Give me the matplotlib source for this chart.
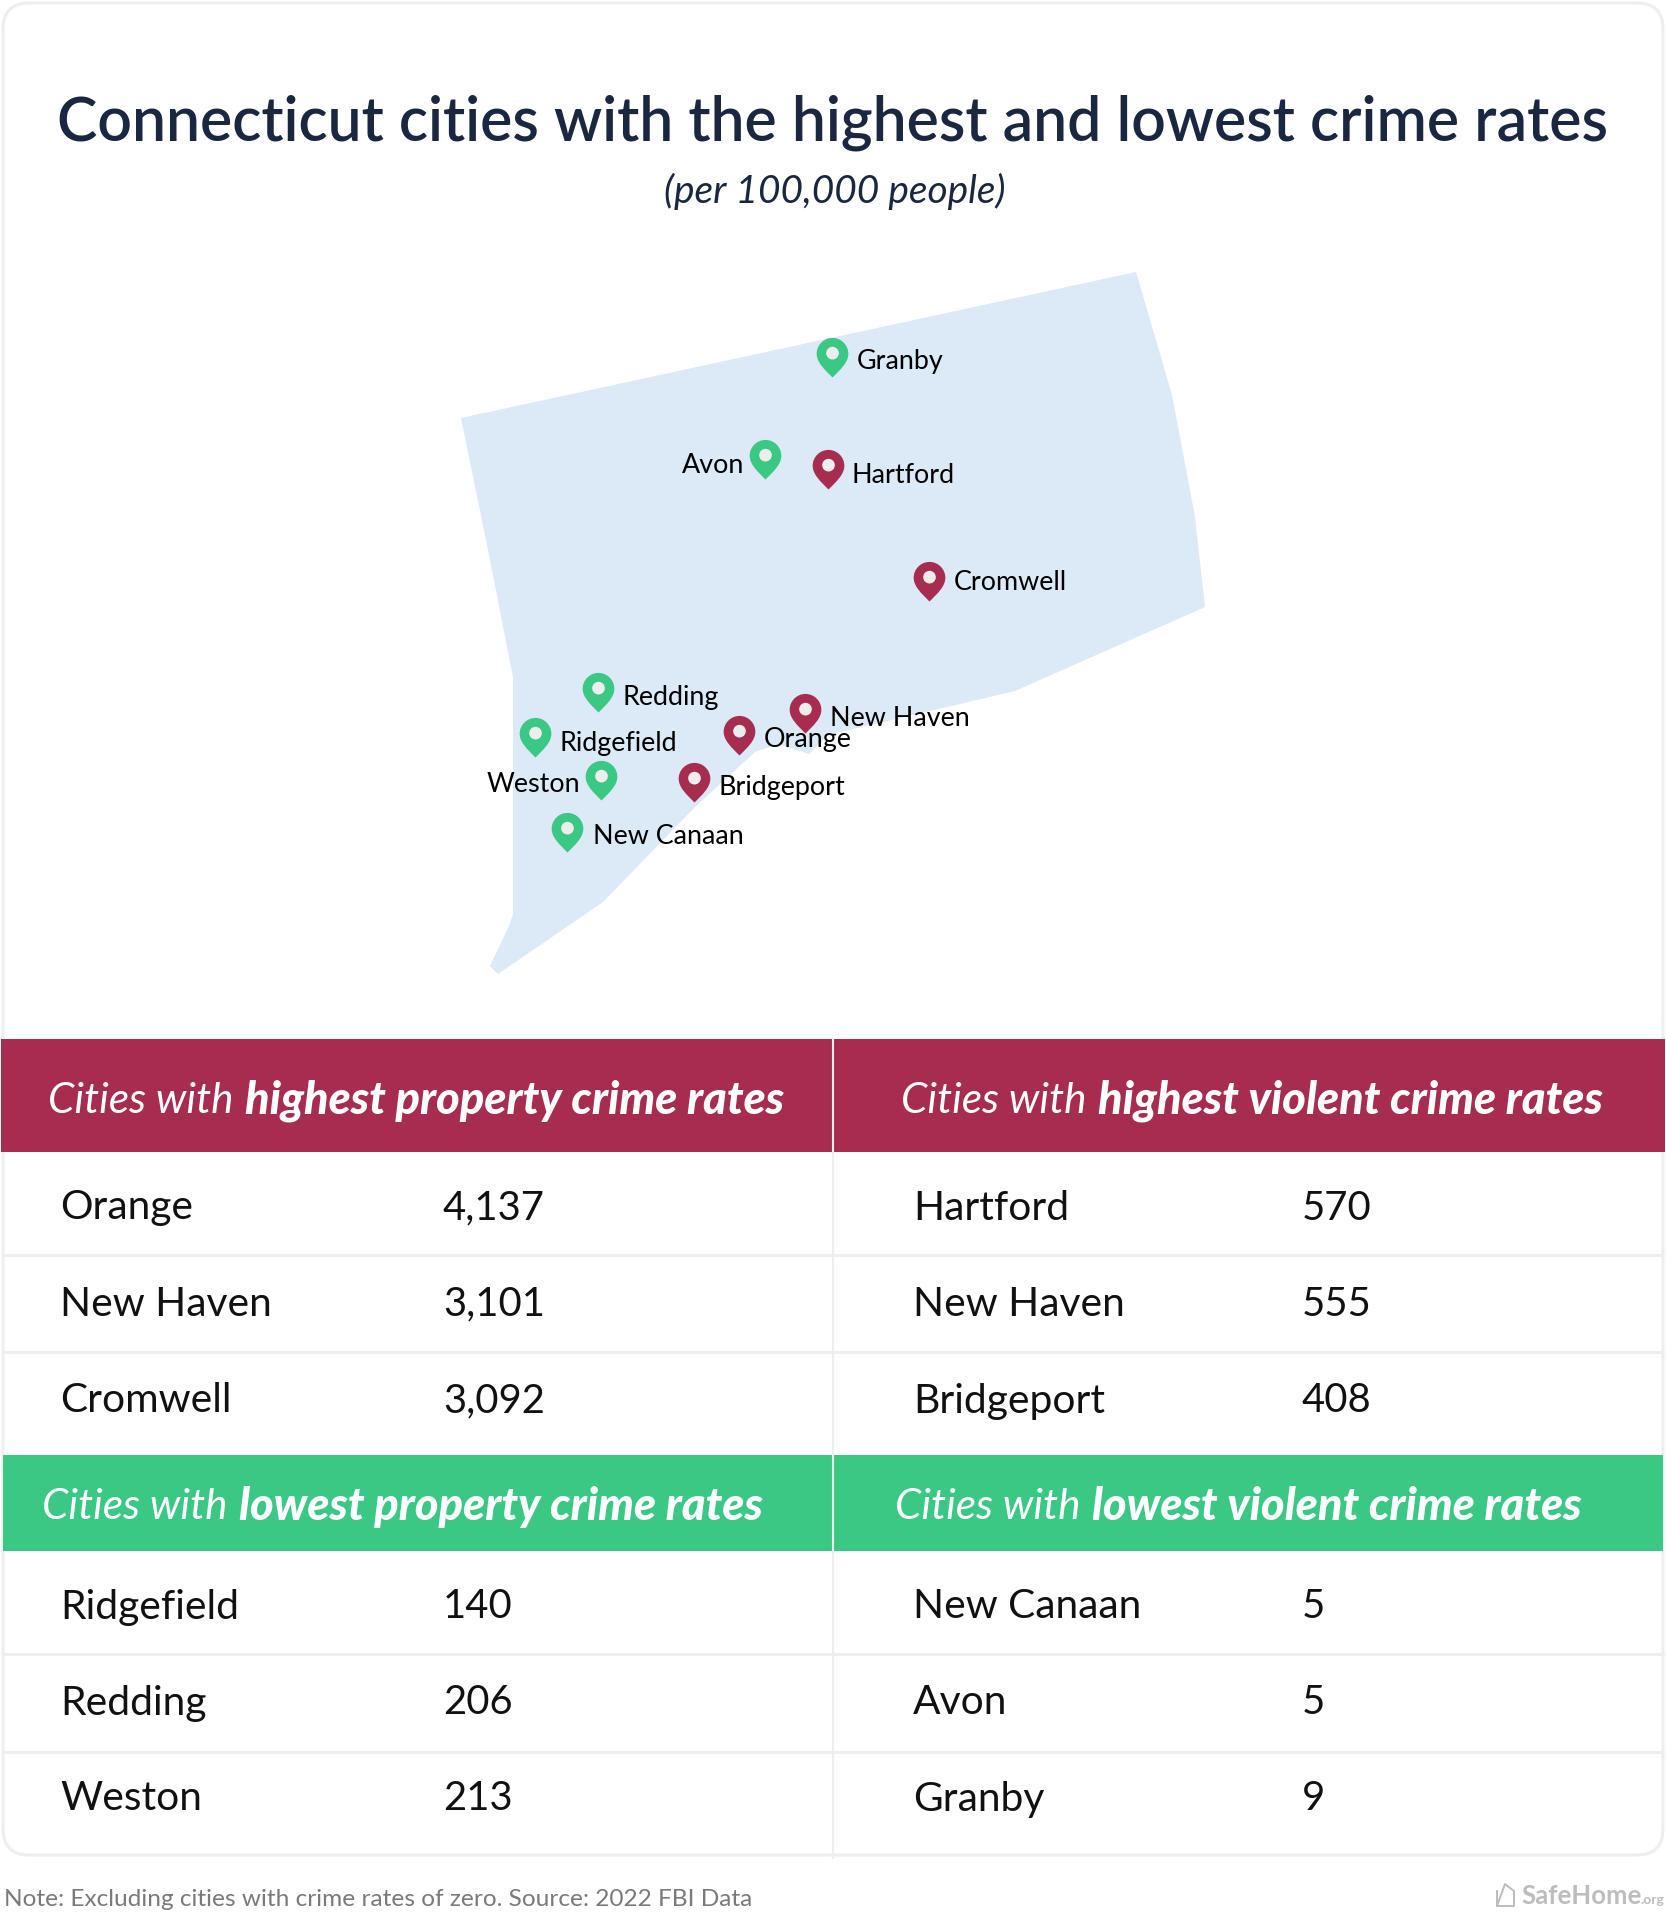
import matplotlib
matplotlib.use("Agg")
import matplotlib.pyplot as plt
from matplotlib.patches import Rectangle, FancyBboxPatch, Polygon
from matplotlib.path import Path

plt.rcParams['font.family'] = ['Lato', 'DejaVu Sans']

RED = '#A62C50'
GREEN = '#3AC884'
MAP_BLUE = '#DCE9F6'
NAVY = '#1B2741'
LINE = '#EEEEEE'

# table contents
high_property_cities = ['Orange', 'New Haven', 'Cromwell']
high_property_rates = [4137, 3101, 3092]
high_violent_cities = ['Hartford', 'New Haven', 'Bridgeport']
high_violent_rates = [570, 555, 408]
low_property_cities = ['Ridgefield', 'Redding', 'Weston']
low_property_rates = [140, 206, 213]
low_violent_cities = ['New Canaan', 'Avon', 'Granby']
low_violent_rates = [5, 5, 9]

# state outline, in image pixels
map_x = [461, 488, 513, 513, 509, 490, 498, 603, 695, 755, 779, 809, 828, 1015, 1205, 1195, 1172, 1136]
map_y = [418, 550, 677, 914, 926, 966, 974, 902, 807, 752, 744, 754, 735, 691, 607, 517, 395, 272]

# pin tips
green_pins = ['Granby', 'Avon', 'Redding', 'Ridgefield', 'Weston', 'New Canaan']
green_x = [832, 765, 598, 535, 601, 567]
green_y = [377, 479, 712, 757, 800, 852]
red_pins = ['Hartford', 'Cromwell', 'New Haven', 'Orange', 'Bridgeport']
red_x = [828, 929, 805, 739, 694]
red_y = [489, 601, 733, 755, 802]

labels = ['Granby', 'Avon', 'Hartford', 'Cromwell', 'New Haven', 'Orange',
          'Redding', 'Ridgefield', 'Weston', 'Bridgeport', 'New Canaan']
label_x = [857, 744, 852, 954, 830, 764, 623, 560, 580, 719, 593]
label_y = [361, 465, 475, 583, 719, 740, 697, 743, 784, 787, 837]
label_ha = ['left', 'right', 'left', 'left', 'left', 'left', 'left', 'left', 'right', 'left', 'left']

fig = plt.figure(figsize=(16.66, 19.16), dpi=100)
ax = fig.add_axes([0, 0, 1, 1])
ax.set_xlim(0, 1666)
ax.set_ylim(1916, 0)
ax.axis('off')

# card outline
ax.add_patch(FancyBboxPatch((3, 3), 1660, 1852, boxstyle='round,pad=0,rounding_size=26',
                            fc='white', ec=LINE, lw=2.2))

ax.text(833, 123, 'Connecticut cities with the highest and lowest crime rates',
        ha='center', va='center', fontsize=43.7, fontweight='semibold', color=NAVY)
ax.text(835, 191, '(per 100,000 people)', ha='center', va='center', fontsize=28,
        style='italic', color=NAVY)

# map
ax.add_patch(Polygon(list(zip(map_x, map_y)), closed=True, fc=MAP_BLUE, ec='none'))

pin = Path([(0, 0), (-.2, .2), (-.4, .38), (-.4, .6), (-.4, .82), (-.22, 1), (0, 1),
            (.22, 1), (.4, .82), (.4, .6), (.4, .38), (.2, .2), (0, 0)],
           [Path.MOVETO] + [Path.CURVE4] * 12)
circle = Path.circle((0, .615), .16)
# moveto at the top keeps the hole on the same scale as the pin
hole = Path.make_compound_path(Path([(0, 0), (0, 1)], [Path.MOVETO, Path.MOVETO]), circle)

for xs, ys, col in [(green_x, green_y, GREEN), (red_x, red_y, RED)]:
    ax.plot(xs, ys, ls='none', marker=pin, ms=57, mfc=col, mec='none', zorder=3)
    ax.plot(xs, ys, ls='none', marker=hole, ms=57, mfc='#EDEDED', mec='none', zorder=4)

for name, x, y, ha in zip(labels, label_x, label_y, label_ha):
    ax.text(x, y, name, ha=ha, va='center', fontsize=19.4, color='black', zorder=5)

# table bands
ax.add_patch(Rectangle((1, 1039), 1664, 113, fc=RED, ec='none'))
ax.add_patch(Rectangle((3, 1455), 1660, 96, fc=GREEN, ec='none'))
for y in [1255, 1352, 1654, 1752]:
    ax.plot([3, 1663], [y, y], color=LINE, lw=2, zorder=1)
ax.plot([833, 833], [1039, 1858], color=LINE, lw=1.5, zorder=2)


def header(x, y, light, bold):
    t = ax.text(x, y, light, va='center', fontsize=30.4, style='italic', color='white', zorder=5)
    end = t.get_window_extent(fig.canvas.get_renderer())
    x1 = ax.transData.inverted().transform((end.x1, end.y0))[0]
    ax.text(x1 + 12, y, bold, va='center', fontsize=32.5, style='italic', fontweight='black',
            color='white', zorder=5)


header(48, 1101, 'Cities with', 'highest property crime rates')
header(901, 1101, 'Cities with', 'highest violent crime rates')
header(42, 1507, 'Cities with', 'lowest property crime rates')
header(895, 1507, 'Cities with', 'lowest violent crime rates')


def rows(x_name, x_val, ys, cities, rates):
    for y, city, rate in zip(ys, cities, rates):
        ax.text(x_name, y, city, va='center', fontsize=29.3, color='#111111', zorder=5)
        ax.text(x_val, y, f'{rate:,}', va='center', fontsize=28.8, color='#111111', zorder=5)


top_rows = [1208, 1304, 1401]
bottom_rows = [1607, 1703, 1799]
rows(60, 443, top_rows, high_property_cities, high_property_rates)
rows(913, 1302, top_rows, high_violent_cities, high_violent_rates)
rows(60, 443, bottom_rows, low_property_cities, low_property_rates)
rows(913, 1302, bottom_rows, low_violent_cities, low_violent_rates)

# footer
ax.text(4, 1899, 'Note: Excluding cities with crime rates of zero. Source: 2022 FBI Data',
        va='center', fontsize=17.6, color='#7A7A7A')
ax.text(1521, 1896, 'SafeHome', va='center', fontsize=18.5, fontweight='bold', color='#BDBDBD')
ax.text(1664, 1900, '.org', va='center', ha='right', fontsize=10, fontweight='bold', color='#BDBDBD')
ax.plot([1497, 1497, 1505, 1514, 1514, 1497], [1891, 1906, 1884, 1891, 1906, 1906],
        color='#BDBDBD', lw=1.4)

fig.savefig('out.png', dpi=100, facecolor='white')
